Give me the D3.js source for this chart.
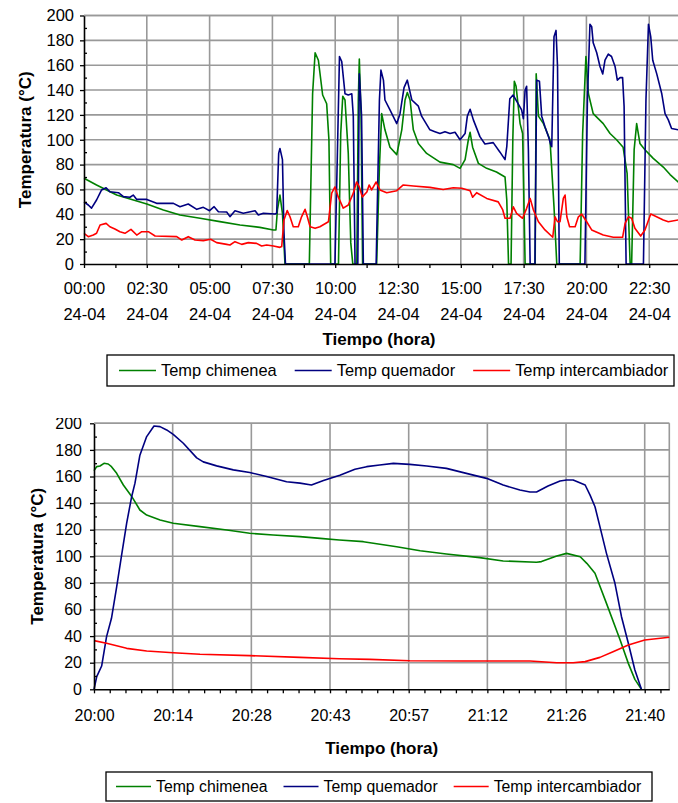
<!DOCTYPE html>
<html>
<head>
<meta charset="utf-8">
<script src="https://cdnjs.cloudflare.com/ajax/libs/d3/7.8.5/d3.min.js"></script>
<style>
  body { margin: 0; background: #fff; }
  svg { display: block; font-family: "Liberation Sans", Arial, sans-serif; }
</style>
</head>
<body>
<div id="chart"></div>
<script>
// ---- data: full day 24-04 (hour, °C) ----
const chimeneaDia = [[0,69],[0.5,63.6],[1.3,55.5],[2.5,48.3],[3.16,43.5],[3.82,39.4],[4.62,36.8],[5.41,34.1],[6.21,31.4],[7.0,29.5],[7.54,27.4],[7.64,27.4],[7.7,43.5],[7.8,55.5],[7.9,40.8],[8.0,0],[8.97,0],[9.1,137],[9.2,170],[9.33,164],[9.5,136],[9.66,129],[9.75,100],[9.82,0],[10.13,0],[10.22,105],[10.3,135],[10.39,132],[10.52,89],[10.62,17],[10.7,0],[10.86,0],[10.92,132],[10.96,165],[11.03,119],[11.09,0],[11.65,0],[11.76,78],[11.85,121],[11.98,108],[12.18,94],[12.45,88],[12.65,108],[12.78,132],[12.87,138],[12.98,132],[13.11,108],[13.31,97],[13.64,89],[14.17,82],[14.7,80],[14.97,77],[15.17,84],[15.3,100],[15.37,106],[15.47,94],[15.7,81],[16.03,77],[16.42,74],[16.76,70],[16.83,51.5],[16.9,0],[17.0,0],[17.07,100],[17.13,147],[17.2,143],[17.36,113],[17.46,105],[17.56,0],[17.96,0],[18.0,153],[18.09,119],[18.29,113],[18.55,100],[18.71,46],[18.82,0],[19.75,0],[19.85,105],[19.98,167],[20.08,137],[20.27,121],[20.67,113],[20.94,105],[21.2,100],[21.46,94],[21.62,73],[21.74,0],[21.8,0],[21.9,92],[22.0,113],[22.13,97],[22.33,92],[22.66,85],[23.06,78],[23.33,72],[23.65,66],[23.95,61]];
const quemadorDia = [[0,50],[0.17,47.5],[0.3,45],[0.5,51.5],[0.7,59.6],[0.88,61.4],[1.03,58.2],[1.37,57.4],[1.57,54.2],[1.83,53.7],[1.96,55.5],[2.1,52],[2.5,52],[2.89,48.8],[3.56,48.8],[3.82,46.1],[4.15,48.3],[4.49,44],[4.75,45.6],[5.0,42.9],[5.18,46.1],[5.35,42.1],[5.68,41.8],[5.81,38.1],[6.01,42.9],[6.34,40.8],[6.81,42.9],[6.94,39.4],[7.14,40.8],[7.6,40.2],[7.67,40.8],[7.75,89],[7.8,93],[7.9,84],[7.96,25],[8.02,0],[9.99,0],[10.09,92],[10.17,167],[10.26,163],[10.32,151],[10.39,137],[10.52,136],[10.66,137],[10.72,119],[10.79,0],[10.9,0],[10.96,153],[11.05,119],[11.12,0],[11.63,0],[11.76,132],[11.82,156],[11.92,148],[11.98,132],[12.18,124],[12.45,113],[12.58,121],[12.74,142],[12.87,148],[13.05,132],[13.31,127],[13.44,119],[13.77,108],[13.97,106.5],[14.17,105],[14.37,106.5],[14.57,105],[14.77,106],[14.97,100],[15.17,105],[15.26,119],[15.37,124.5],[15.5,116],[15.76,102.5],[15.96,96.6],[16.29,97.7],[16.56,90],[16.76,84],[16.83,94.4],[16.95,133],[17.08,136],[17.28,129],[17.42,124],[17.49,117],[17.56,140],[17.62,143],[17.69,92],[17.76,0],[17.95,0],[18.02,148],[18.13,147],[18.22,119],[18.35,110.5],[18.49,102.5],[18.58,96],[18.62,94.4],[18.71,183],[18.79,188],[18.85,159],[18.92,0],[19.94,0],[20.04,132],[20.14,193],[20.21,191],[20.27,178],[20.41,170],[20.54,159],[20.65,153],[20.74,164],[20.87,169],[21.0,167],[21.14,159],[21.23,148],[21.34,150],[21.44,150],[21.5,127],[21.58,0],[22.27,0],[22.37,132],[22.47,193],[22.56,183],[22.64,164],[22.8,153],[23.0,137],[23.13,121],[23.26,116],[23.39,109],[23.65,108],[23.95,108]];
const intercambiadorDia = [[0,24.7],[0.17,22],[0.37,23.3],[0.5,24.7],[0.64,31.4],[0.88,32.7],[1.03,30],[1.23,28.2],[1.43,26],[1.63,24.7],[1.87,27.9],[2.1,23.3],[2.3,26],[2.56,26],[2.83,22.5],[3.69,22],[3.89,19.3],[4.15,22],[4.42,19.3],[4.75,18.8],[5.04,19.9],[5.28,17.2],[5.68,15.8],[5.81,15.3],[6.01,18],[6.28,15.8],[6.54,17.2],[6.87,16.6],[7.07,14.5],[7.27,15.3],[7.54,14.5],[7.8,13.4],[7.87,14],[7.96,35.4],[8.09,43],[8.2,38],[8.33,30],[8.53,30],[8.66,38],[8.8,44],[8.89,38],[9.0,30],[9.2,28.7],[9.39,30],[9.73,34],[9.86,57],[9.99,62],[10.12,54],[10.32,45],[10.52,47.5],[10.72,57],[10.85,66],[10.96,62],[11.08,54],[11.26,58],[11.35,63.6],[11.45,59.6],[11.63,66],[11.78,59.6],[12.05,57.4],[12.45,59],[12.71,63.6],[13.11,62.8],[13.77,61.7],[14.3,60],[14.7,61.4],[15.04,61],[15.37,59],[15.47,53.7],[15.63,57.4],[16.03,52.8],[16.49,50],[16.67,43.5],[16.76,36.8],[16.96,36.8],[17.09,46],[17.22,40.8],[17.46,36.8],[17.62,44.8],[17.76,52.8],[17.89,43.5],[18.09,34],[18.35,27.4],[18.66,21.5],[18.75,38],[18.85,34],[18.95,34],[19.08,52.8],[19.15,55.5],[19.22,38],[19.33,30],[19.55,30],[19.68,38],[19.81,40.2],[20.01,34],[20.21,27.4],[20.67,23.3],[21.07,21.5],[21.44,21.5],[21.54,32.7],[21.67,38],[21.8,36.8],[21.93,28.7],[22.16,22.5],[22.33,27.4],[22.56,40.2],[22.73,38.6],[23.06,35.4],[23.26,34],[23.65,35.4],[23.95,36]];
const etiquetasDia = ["00:00","02:30","05:00","07:30","10:00","12:30","15:00","17:30","20:00","22:30"];
const fechaDia = "24-04";

// ---- data: 20:00 - 21:45 (minutes after 20:00, °C) ----
const quemadorTarde = [[0,0],[0.5,9.5],[1.4,17.5],[2.3,39.6],[3.2,53.4],[4.15,77],[5.06,101],[5.98,125],[6.9,145],[7.5,155],[8.4,176],[9.64,190],[10.98,198],[12.08,197.5],[13.3,195],[14.5,191.7],[16.35,185],[18.8,174],[20,171],[22.45,168],[25.5,165],[28.5,163],[31.6,160],[35.25,156],[37.7,155],[39.8,153.6],[42,157],[45,161],[47.76,165.4],[49.9,167.4],[52.3,168.7],[54.8,169.9],[57.8,169.1],[60.9,167.9],[64.5,166.1],[67.6,162.9],[71.85,158.6],[74.9,153.6],[77.95,149.8],[79.8,148.3],[81,148.3],[83.1,152.8],[85.3,156.6],[86.5,157.4],[87.7,157.4],[89.9,153.6],[90.8,146],[91.7,137.3],[92.6,122.3],[93.8,102.2],[95.35,79.7],[96.55,54.6],[97.8,34.6],[99,14.5],[100.2,0]];
const chimeneaTarde = [[0,164.4],[0.5,167.4],[1.1,167.9],[1.83,169.9],[2.6,169.4],[3.2,167.4],[4.15,162.4],[5.37,153.6],[6.9,145],[8.4,134.8],[9.64,131],[12.1,127.3],[14.5,124.8],[19.4,122.3],[24.3,119.8],[28.5,117.3],[32.8,116],[37.7,114.8],[41.4,113.5],[44.9,112.3],[49.3,111],[55.4,107.2],[59.7,104.2],[64.5,101.7],[70.6,99],[74.9,96.5],[81,95.5],[81.9,96],[84.7,100.2],[86.5,102.2],[89,99.7],[90.2,94.7],[91.7,87.2],[93.8,64.6],[96.3,37.1],[97.8,19.5],[99,7.5],[100.2,0]];
const intercambiadorTarde = [[0,36.6],[2.3,34.6],[5.98,30.8],[9.64,28.8],[14.5,27.5],[19.4,26.3],[28.5,25.3],[37.7,24],[44.9,23],[50.5,22.5],[57.8,21.5],[67.6,21.3],[79.8,21.3],[84.7,20],[87.7,20],[89.9,20.8],[92.6,24],[95,28.3],[97.8,33.3],[100.8,37.1],[105.3,39.1]];
const etiquetasTarde = ["20:00","20:14","20:28","20:43","20:57","21:12","21:26","21:40"];

const nombres = ["Temp chimenea", "Temp quemador", "Temp intercambiador"];
const colores = ["#008000", "#000080", "#ff0000"];

const W = 678, H = 803;
const gridColor = "#999";

const svg = d3.select("#chart").append("svg")
    .attr("width", W)
    .attr("height", H);

svg.append("defs").append("clipPath").attr("id", "clipBottom")
    .append("rect").attr("x", 0).attr("y", 418).attr("width", W).attr("height", H - 418);

function drawPanel(g, p) {
    const x = d3.scaleLinear().domain(p.xDomain).range([p.left, p.right]);
    const y = d3.scaleLinear().domain([0, 200]).range([p.bottom, p.top]);

    // horizontal grid
    g.append("g").selectAll("line")
        .data(d3.range(20, 201, 20))
        .join("line")
            .attr("x1", p.left).attr("x2", p.right)
            .attr("y1", d => y(d)).attr("y2", d => y(d))
            .attr("stroke", gridColor).attr("stroke-width", 1.6)

    // vertical grid (one per label, skipping the axis)
    const gridVals = p.labels.map((d, i) => i * p.labelStep).filter(v => v > 0)
    if (p.borderRight) gridVals.push(p.xDomain[1])
    g.append("g").selectAll("line")
        .data(gridVals)
        .join("line")
            .attr("x1", d => x(d)).attr("x2", d => x(d))
            .attr("y1", p.top).attr("y2", p.bottom)
            .attr("stroke", gridColor).attr("stroke-width", 1.6)

    // series
    const line = d3.line().x(d => x(d[0])).y(d => y(d[1]))
    p.series.forEach((s, i) => {
        g.append("path")
            .datum(s)
            .attr("d", line)
            .attr("fill", "none")
            .attr("stroke", colores[i])
            .attr("stroke-width", 1.6)
            .attr("stroke-linejoin", "round")
    })

    // y axis: major ticks (outside, labelled) + minor ticks inside
    const yAxis = g.append("g")
        .attr("transform", `translate(${p.left},0)`)
        .call(d3.axisLeft(y).tickValues(d3.range(0, 201, 20)).tickSize(4).tickSizeOuter(0).tickPadding(p.yPad))
    g.append("g")
        .attr("transform", `translate(${p.left},0)`)
        .call(d3.axisRight(y).tickValues(d3.range(10, 200, 20)).tickSize(3).tickSizeOuter(0).tickFormat(""))
        .call(a => a.select(".domain").remove())
        .selectAll("line").attr("stroke", "#000").attr("stroke-width", 1.3)

    // x axis
    const labelAt = new Map(p.labels.map((d, i) => [+(i * p.labelStep).toFixed(4), d]))
    const tickVals = d3.range(0, p.xDomain[1] + 1e-6, p.tickStep).map(v => +v.toFixed(4))
    const xAxis = g.append("g")
        .attr("transform", `translate(0,${p.bottom})`)
        .call(d3.axisBottom(x).tickValues(tickVals).tickSize(4).tickSizeOuter(0).tickPadding(p.xPad)
            .tickFormat(d => labelAt.get(d) || ""))

    ;[yAxis, xAxis].forEach(a => {
        a.attr("font-family", null).attr("font-size", null)
        a.selectAll("text").attr("font-size", p.fontSize).attr("fill", "#000")
        a.selectAll("line").attr("stroke", "#000").attr("stroke-width", 1.3)
        a.select(".domain").attr("stroke", "#000").attr("stroke-width", 1.6)
    })

    if (p.secondLine) {
        xAxis.selectAll(".tick text")
            .filter(function () { return this.textContent !== "" })
            .each(function () {
                const t = d3.select(this)
                const first = t.text()
                t.text(null)
                t.append("tspan").attr("x", 0).text(first)
                t.append("tspan").attr("x", 0).attr("dy", p.lineGap).text(p.secondLine)
            })
    }

    // top border
    g.append("line")
        .attr("x1", p.left).attr("x2", p.right)
        .attr("y1", p.top).attr("y2", p.top)
        .attr("stroke", gridColor).attr("stroke-width", 1.6)

    // titles
    g.append("text")
        .attr("x", (p.left + p.xTitleCenter) / 2)
        .attr("y", p.xTitleY)
        .attr("text-anchor", "middle")
        .attr("font-size", 17)
        .attr("font-weight", "bold")
        .text("Tiempo (hora)")

    g.append("text")
        .attr("transform", `translate(${p.yTitleX},${(p.top + p.bottom) / 2}) rotate(-90)`)
        .attr("text-anchor", "middle")
        .attr("font-size", 17)
        .attr("font-weight", "bold")
        .text("Temperatura (°C)")

    // legend
    const lg = g.append("g")
    lg.append("rect")
        .attr("x", p.legend.x).attr("y", p.legend.y)
        .attr("width", p.legend.w).attr("height", p.legend.h)
        .attr("fill", "#fff").attr("stroke", "#000").attr("stroke-width", 1.3)
    let cx = p.legend.x + p.legend.pad
    const cy = p.legend.y + p.legend.h / 2
    nombres.forEach((n, i) => {
        lg.append("line")
            .attr("x1", cx).attr("x2", cx + p.legend.sample)
            .attr("y1", cy).attr("y2", cy)
            .attr("stroke", colores[i]).attr("stroke-width", 1.6)
        const t = lg.append("text")
            .attr("x", cx + p.legend.sample + 5)
            .attr("y", cy)
            .attr("dy", "0.36em")
            .attr("font-size", p.legend.fontSize)
            .text(n)
        cx += p.legend.sample + 5 + t.node().getComputedTextLength() + p.legend.gap
    })
}

// top panel: whole day
drawPanel(svg.append("g"), {
    left: 84, right: 686.9, top: 15.5, bottom: 264,
    xDomain: [0, 24], labelStep: 2.5, tickStep: 1.25,
    labels: etiquetasDia, secondLine: fechaDia, lineGap: 26,
    series: [chimeneaDia, quemadorDia, intercambiadorDia],
    fontSize: 16.5, yPad: 6, xPad: 14.5,
    xTitleCenter: 674, xTitleY: 344.5, yTitleX: 30.5,
    legend: {x: 107, y: 355, w: 567, h: 31, pad: 12, sample: 37, gap: 18, fontSize: 16.4}
})

// bottom panel: 20:00 - 21:45
drawPanel(svg.append("g").attr("clip-path", "url(#clipBottom)"), {
    left: 94, right: 669.3, top: 423.3, bottom: 689.3,
    xDomain: [0, 105.3], labelStep: 14.4, tickStep: 2.88,
    labels: etiquetasTarde, borderRight: true,
    series: [chimeneaTarde, quemadorTarde, intercambiadorTarde],
    fontSize: 16, yPad: 8, xPad: 16.5,
    xTitleCenter: 669.3, xTitleY: 753.5, yTitleX: 42.5,
    legend: {x: 106, y: 772, w: 546, h: 29, pad: 10, sample: 35, gap: 16, fontSize: 15.8}
})
</script>
</body>
</html>
